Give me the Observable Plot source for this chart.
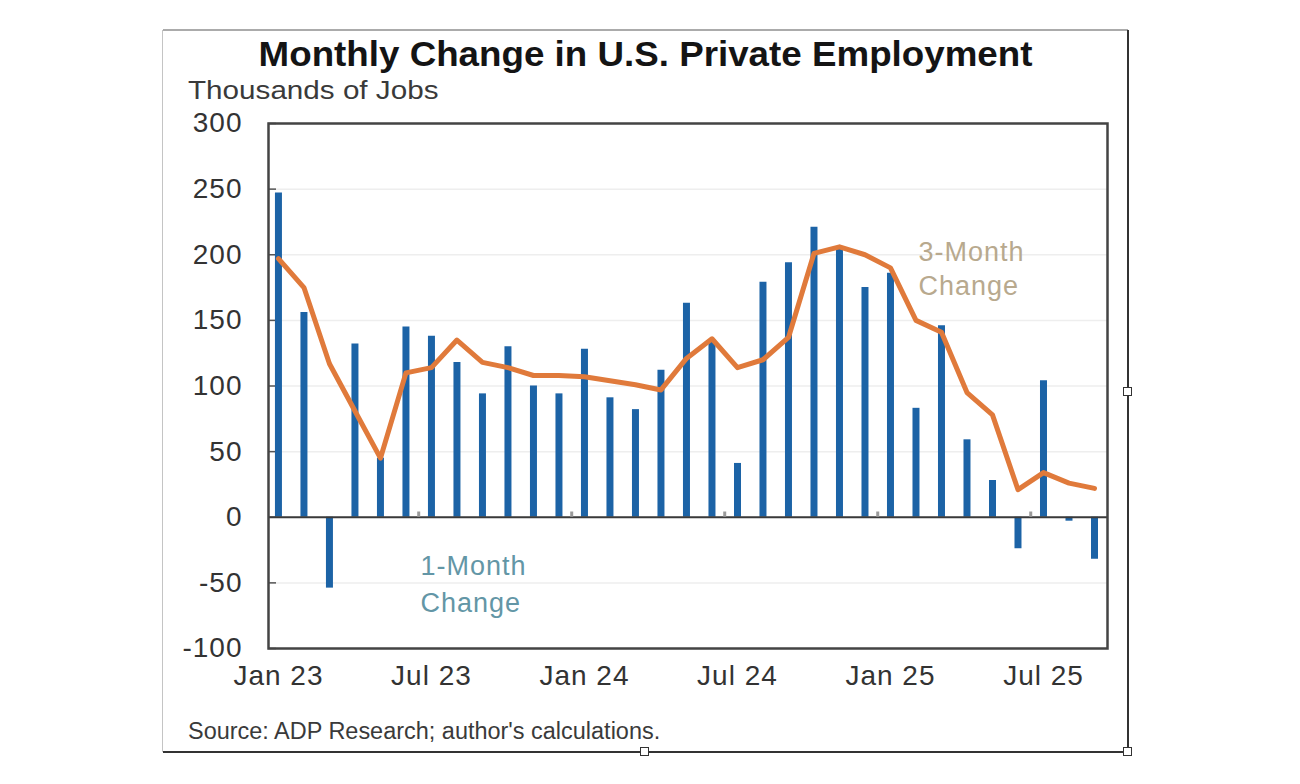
<!DOCTYPE html>
<html><head><meta charset="utf-8">
<script src="https://cdn.jsdelivr.net/npm/d3@7"></script>
<script src="https://cdn.jsdelivr.net/npm/@observablehq/plot@0.6"></script>
<style>
html,body{margin:0;padding:0;background:#fff;width:1300px;height:784px;overflow:hidden;font-family:"Liberation Sans",Arial,sans-serif;position:relative;}
.ln{position:absolute;}
#title{position:absolute;left:163px;width:965px;top:36px;text-align:center;font-weight:bold;font-size:35px;line-height:35px;color:#141414;white-space:nowrap;}
#title span{display:inline-block;transform:scaleX(1.05);}
#sub{position:absolute;left:188px;top:77px;font-size:26px;line-height:26px;color:#3a3a3a;white-space:nowrap;transform-origin:0 0;transform:scaleX(1.14);}
#src{position:absolute;left:188px;top:720px;font-size:23px;line-height:23px;color:#3a3a3a;white-space:nowrap;transform-origin:0 0;transform:scaleX(1.02);}
#chart{position:absolute;left:163px;top:105px;}
.hd{position:absolute;width:7px;height:7px;background:#fff;border:1px solid #333;}
</style>
</head><body>
<div class="ln" style="left:163px;top:29px;width:965px;height:2px;background:#ababab"></div>
<div class="ln" style="left:162px;top:30px;width:1px;height:722px;background:#c4c4c4"></div>
<div class="ln" style="left:1127px;top:30px;width:2px;height:723px;background:#333"></div>
<div class="ln" style="left:163px;top:751px;width:966px;height:2px;background:#333"></div>
<div id="title"><span>Monthly Change in U.S. Private Employment</span></div>
<div id="sub">Thousands of Jobs</div>
<div id="chart"></div>
<div id="src">Source: ADP Research; author's calculations.</div>
<div class="hd" style="left:1123px;top:387px"></div>
<div class="hd" style="left:640px;top:747px"></div>
<div class="hd" style="left:1123px;top:747px"></div>
<script>
const months = ["Jan 23","Feb 23","Mar 23","Apr 23","May 23","Jun 23","Jul 23","Aug 23","Sep 23","Oct 23","Nov 23","Dec 23",
  "Jan 24","Feb 24","Mar 24","Apr 24","May 24","Jun 24","Jul 24","Aug 24","Sep 24","Oct 24","Nov 24","Dec 24",
  "Jan 25","Feb 25","Mar 25","Apr 25","May 25","Jun 25","Jul 25","Aug 25","Sep 25"];
const oneMonth = [247,156,-54,132,45,145,138,118,94,130,100,94,
  128,91,82,112,163,135,41,179,194,221,205,175,
  186,83,146,59,28,-24,104,-3,-32];
const threeMonth = [197,175,117,81,45,110,114,135,118,114,108,108,
  107,104,101,97,121,136,114,120,137,201,206,200,
  190,150,141,95,78,21,34,26,22];
const xTickLabels = ["Jan 23","Jul 23","Jan 24","Jul 24","Jan 25","Jul 25"];
const yTicks = [-100,-50,0,50,100,150,200,250,300];
const oneMonthLabel = "1-Month\nChange";
const threeMonthLabel = "3-Month\nChange";

const data = months.map((m, i) => ({i, month: m, one: oneMonth[i], three: threeMonth[i]}));
const xTicks = xTickLabels.map(l => months.indexOf(l));
const halfYearBreaks = xTicks.slice(1).map(i => i - 0.5);

const W = 965, ML = 105, MR = 21;
const chart = Plot.plot({
  width: W, height: 595,
  marginLeft: ML, marginRight: MR, marginTop: 18, marginBottom: 52,
  style: {fontFamily: '"Liberation Sans", Arial, sans-serif', fontSize: "28px", color: "#333", background: "transparent", letterSpacing: "1px", overflow: "visible"},
  x: {domain: [-0.39, 32.51], ticks: xTicks, tickFormat: i => months[i], tickSize: 0, tickPadding: 17, label: null},
  y: {domain: [-100, 300], ticks: yTicks, tickFormat: d => String(d), tickSize: 0, tickPadding: 26, label: null},
  marks: [
    Plot.gridY(yTicks, {stroke: "#eeeeee", strokeOpacity: 1, strokeWidth: 1.5}),
    Plot.tickY(yTicks, {y: d => d, stroke: "#555", strokeWidth: 1.5, insetRight: W - ML - MR - 8}),
    Plot.ruleX(data, {x: "i", y1: 0, y2: "one", stroke: "#1c63a6", strokeWidth: 7}),
    Plot.ruleY([0], {stroke: "#3a3a3a", strokeWidth: 2}),
    Plot.ruleX(halfYearBreaks, {x: d => d, y1: 0, y2: 4, stroke: "#9a9a9a", strokeWidth: 3}),
    Plot.line(data, {x: "i", y: "three", stroke: "#e07a3b", strokeWidth: 5, strokeLinejoin: "round"}),
    Plot.text([oneMonthLabel], {x: 5.57, y: -49, text: d => d, textAnchor: "start", lineAnchor: "middle", lineHeight: 1.37, fontSize: 27, fill: "#6396a6"}),
    Plot.text([threeMonthLabel], {x: 25.1, y: 190.5, text: d => d, textAnchor: "start", lineAnchor: "middle", lineHeight: 1.26, fontSize: 27, fill: "#b8a98e"}),
    Plot.frame({stroke: "#444", strokeWidth: 2.5})
  ]
});
document.getElementById("chart").appendChild(chart);
</script>
</body></html>
